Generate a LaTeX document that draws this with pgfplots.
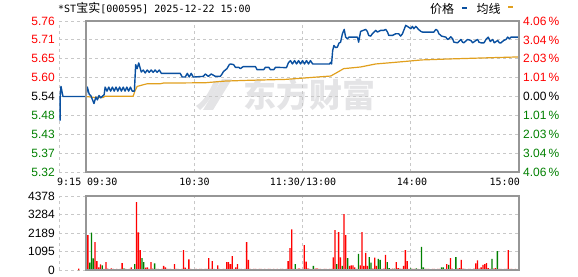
\documentclass[border=0pt]{standalone}
\usepackage{fontspec}
\setmainfont{Liberation Sans}
\newfontfamily\cjk{Noto Sans CJK SC}
\newfontfamily\mono{DejaVu Sans Mono}
\usepackage{pgfplots}
\usepackage{pgfplotstable}
\pgfplotsset{compat=1.18}
\definecolor{priceblue}{RGB}{10,80,160}
\definecolor{avgorange}{RGB}{225,160,30}
\definecolor{gridgray}{RGB}{200,200,200}
\definecolor{framegray}{RGB}{150,150,150}
\definecolor{upred}{RGB}{255,0,0}
\definecolor{downgreen}{RGB}{0,128,0}
\definecolor{wm}{RGB}{228,228,230}

\pgfplotstableread{
t vr vg
-4 80 0
1 2070 0
2 0 434
3 0 2209
4 0 690
5 1656 0
6 532 0
7 158 0
8 335 0
9 0 276
10 60 0
11 473 0
12 79 0
13 40 0
14 100 0
15 60 0
16 0 50
17 60 0
18 40 0
19 60 0
20 414 0
21 0 99
22 60 0
23 40 0
24 60 0
25 158 0
26 40 0
27 0 355
28 4023 0
29 2228 0
30 1183 0
31 0 710
32 0 473
33 138 0
34 158 0
35 60 0
36 473 0
37 79 0
38 0 394
39 60 0
40 60 0
41 0 50
42 60 0
43 237 0
44 158 0
45 60 0
46 60 0
47 60 0
48 40 0
49 355 0
50 60 0
51 60 0
52 40 0
53 60 0
54 1183 0
55 138 0
56 60 0
57 631 0
58 60 0
59 40 0
60 0 50
61 60 0
62 0 40
63 60 0
64 60 0
65 0 40
66 60 0
67 60 0
68 710 0
69 60 0
70 532 0
71 60 0
72 40 0
73 276 0
74 60 0
75 40 0
76 60 0
77 60 0
78 473 0
79 473 0
80 355 0
81 828 0
82 60 0
83 158 0
84 355 0
85 0 60
86 60 0
87 40 0
88 60 0
89 1656 0
90 592 0
91 60 0
92 40 0
93 60 0
94 60 0
95 0 40
96 60 0
97 60 0
98 40 0
99 60 0
100 0 40
101 60 0
102 60 0
103 40 0
104 60 0
105 0 50
106 60 0
107 40 0
108 60 0
109 60 0
110 40 0
111 60 0
112 532 0
113 1301 0
114 2406 0
115 60 0
116 0 355
117 60 0
118 100 0
119 60 0
120 40 0
121 1479 0
122 493 0
123 100 0
124 60 0
125 40 0
126 0 237
127 80 0
128 100 0
129 60 0
130 60 0
131 40 0
132 60 0
133 60 0
134 40 0
135 60 0
136 60 0
137 749 0
138 2366 0
139 0 355
140 2248 0
141 749 0
142 0 237
143 3313 0
144 2070 0
145 0 710
146 237 0
147 276 0
148 276 0
149 158 0
150 60 0
151 0 947
152 276 0
153 2248 0
154 237 0
155 1006 0
156 237 0
157 0 769
158 0 434
159 79 0
160 730 0
161 237 0
162 0 651
163 0 592
164 60 0
165 79 0
166 888 0
167 0 473
168 0 118
169 60 0
170 79 0
171 0 79
172 473 0
173 118 0
174 79 0
175 60 0
176 237 0
177 1183 0
178 532 0
179 60 0
180 0 99
181 60 0
182 60 0
183 0 99
184 60 0
185 40 0
186 0 1361
187 0 158
188 60 0
189 60 0
190 60 0
191 40 0
192 60 0
193 60 0
194 40 0
195 60 0
196 60 0
197 0 158
198 0 158
199 60 0
200 355 0
201 0 296
202 710 0
203 79 0
204 40 0
205 0 769
206 79 0
207 118 0
208 592 0
209 79 0
210 60 0
211 40 0
212 60 0
213 60 0
214 40 0
215 79 0
216 394 0
217 572 0
218 79 0
219 158 0
220 296 0
221 355 0
222 414 0
223 118 0
224 60 0
225 0 651
226 79 0
227 118 0
228 0 1124
229 60 0
230 60 0
231 40 0
232 60 0
233 60 0
234 1183 0
235 60 0
236 60 0
237 40 0
238 60 0
239 40 0
240 769 0
}\voltable

\pgfplotsset{
  chartstyle/.style={
    scale only axis, width=460pt,
    xmin=-15, xmax=240,
    axis line style={draw=none},
    major tick length=0pt,
    xtick={-15,60,120,180}, xticklabels={},
    grid=major,
    grid style={gridgray, dash pattern=on 3pt off 3pt, line width=0.9pt},
    yticklabel style={font=\fontsize{12}{14}\selectfont, inner sep=0pt, xshift=-4pt},
    clip=false,
  }
}

\begin{document}
\begin{tikzpicture}
\path[use as bounding box] (0pt,0pt) rectangle (578pt,276pt);

% watermark
\fill[wm] (203pt,166pt) -- (222pt,197pt) -- (232pt,197pt) -- (213pt,166pt) -- cycle;
\fill[wm] (196pt,170pt) .. controls (205pt,176pt) and (210pt,186pt) .. (214pt,195pt) -- (220pt,195pt) .. controls (214pt,182pt) and (207pt,172pt) .. (200pt,166pt) -- cycle;
\node[text=wm, inner sep=0pt] at (309pt,181pt) {\cjk\bfseries\fontsize{33}{33}\selectfont 东方财富};

\begin{axis}[chartstyle,
  at={(59pt,104pt)}, anchor=south west, height=151pt,
  ymin=5.315, ymax=5.765,
  ytick={5.315,5.37125,5.4275,5.48375,5.54,5.59625,5.6525,5.70875,5.765},
  yticklabels={\textcolor{downgreen}{5.32},\textcolor{downgreen}{5.37},\textcolor{downgreen}{5.43},\textcolor{downgreen}{5.48},5.54,\textcolor{upred}{5.60},\textcolor{upred}{5.65},\textcolor{upred}{5.71},\textcolor{upred}{5.76}},
]
\addplot[avgorange, line width=1.2pt] coordinates {
(0,5.540) (5,5.537) (9.4,5.537) (10.6,5.541) (26.1,5.541) (27.2,5.558) (28.3,5.570)
(31.7,5.575) (33.9,5.578) (41.1,5.578) (42.8,5.580) (66.1,5.581) (77.2,5.586)
(88.3,5.588) (110.6,5.591) (135.6,5.601) (138.3,5.609) (142.8,5.623) (152.2,5.628)
(160.6,5.637) (171.7,5.642) (186.1,5.649) (202.2,5.652) (220.6,5.655) (240,5.658)
};
\addplot[priceblue, line width=1.4pt, line join=round] coordinates {
(-14.4,5.468) (-14.4,5.537) (-13.9,5.570) (-12.8,5.540) (0,5.540)
(0.7,5.568) (1.8,5.546) (2.6,5.543) (3.5,5.531) (4.4,5.519) (5.4,5.538) (6.3,5.530)
(7.2,5.543) (8.2,5.536) (9.1,5.541) (10.0,5.545) (10.6,5.568) (11.6,5.556) (12.6,5.568)
(13.6,5.556) (14.6,5.568) (15.6,5.556) (16.6,5.568) (17.6,5.556) (18.6,5.568) (19.6,5.556)
(20.6,5.568) (21.6,5.556) (22.6,5.568) (23.6,5.556) (24.6,5.568) (25.6,5.556) (26.8,5.556)
(27.5,5.635) (28.3,5.623) (29.2,5.640) (30.6,5.613) (31.7,5.619) (32.8,5.610) (33.9,5.619)
(35.0,5.612) (36.1,5.619) (37.2,5.612) (38.3,5.619) (39.4,5.612) (40.6,5.619) (41.7,5.609)
(52.2,5.609) (53.3,5.598) (55.0,5.598) (56.1,5.609) (57.2,5.598) (58.3,5.609) (59.4,5.598)
(65.0,5.600) (66.1,5.607) (67.8,5.600) (69.4,5.607) (71.7,5.600) (74.4,5.600) (75.4,5.607)
(76.1,5.614) (78.1,5.623) (79.4,5.635) (80.0,5.637) (81.8,5.635) (82.8,5.627) (84.6,5.627)
(85.6,5.623) (86.5,5.627) (87.2,5.629) (93.9,5.629) (94.8,5.620) (98.5,5.620) (99.4,5.627)
(101.3,5.627) (102.2,5.620) (104.1,5.620) (105.0,5.627) (111.1,5.626) (112.2,5.641)
(113.3,5.647) (114.4,5.637) (115.6,5.647) (116.7,5.637) (117.8,5.647) (118.9,5.637)
(120.0,5.647) (121.1,5.637) (122.2,5.647) (123.3,5.637) (124.4,5.647) (125.6,5.637)
(135.0,5.637) (135.6,5.642) (136.1,5.637) (136.7,5.677) (137.4,5.692) (138.3,5.686)
(139.3,5.687) (140.2,5.699) (141.1,5.702) (142.1,5.727) (143.1,5.740) (143.9,5.717)
(144.8,5.712) (145.7,5.717) (150.4,5.717) (151.1,5.702) (152.2,5.734) (155.0,5.740)
(155.9,5.734) (156.7,5.722) (157.8,5.720) (158.7,5.727) (160.6,5.737) (161.5,5.732)
(163.3,5.737) (165.0,5.737) (166.1,5.740) (167.1,5.732) (167.8,5.722) (169.8,5.722)
(171.7,5.727) (173.3,5.727) (174.4,5.720) (175.4,5.727) (177.2,5.752) (178.7,5.747)
(180.0,5.742) (180.9,5.749) (181.7,5.742) (182.8,5.749) (184.3,5.740) (185.6,5.734)
(186.5,5.732) (192.8,5.732) (193.9,5.740) (194.8,5.737) (195.6,5.727) (197.1,5.720)
(199.4,5.717) (200.4,5.710) (201.1,5.712) (202.2,5.718) (203.2,5.712) (203.9,5.702)
(205.9,5.700) (207.8,5.710) (208.7,5.702) (209.4,5.700) (211.5,5.710) (213.3,5.707)
(214.3,5.700) (216.1,5.707) (217.1,5.710) (217.8,5.702) (218.9,5.700) (220.6,5.700)
(221.7,5.710) (222.9,5.717) (224.1,5.704) (225.4,5.710) (226.3,5.700) (228.2,5.707)
(229.1,5.700) (230.0,5.700) (231.5,5.707) (232.8,5.710) (233.7,5.717) (234.6,5.712)
(235.6,5.717) (240.0,5.717)
};
\draw[framegray, line width=1.3pt] (axis cs:0,5.315) rectangle (axis cs:240,5.765);
\begin{scope}[every node/.style={anchor=west, inner sep=0pt, xshift=4pt, font=\fontsize{12}{14}\selectfont}]
\node[text=upred] at (axis cs:240,5.765) {4.06\,\%};
\node[text=upred] at (axis cs:240,5.70875) {3.04\,\%};
\node[text=upred] at (axis cs:240,5.6525) {2.03\,\%};
\node[text=upred] at (axis cs:240,5.59625) {1.01\,\%};
\node[text=black] at (axis cs:240,5.54) {0.00\,\%};
\node[text=downgreen] at (axis cs:240,5.48375) {1.01\,\%};
\node[text=downgreen] at (axis cs:240,5.4275) {2.03\,\%};
\node[text=downgreen] at (axis cs:240,5.37125) {3.04\,\%};
\node[text=downgreen] at (axis cs:240,5.315) {4.06\,\%};
\end{scope}
\end{axis}

\begin{axis}[chartstyle,
  at={(59pt,6pt)}, anchor=south west, height=74pt,
  ymin=0, ymax=4378,
  ytick={0,1094.5,2189,3283.5,4378},
  yticklabels={0,1095,2189,3284,4378},
  scaled y ticks=false,
]
\addplot[ybar, bar width=0.72, bar shift=0pt, fill=upred, draw=none] table[x=t, y=vr] {\voltable};
\addplot[ybar, bar width=0.72, bar shift=0pt, fill=downgreen, draw=none] table[x=t, y=vg] {\voltable};
\draw[framegray, line width=1.3pt] (axis cs:0,0) rectangle (axis cs:240,4378);
\end{axis}

% title
\node[anchor=base west, inner sep=0pt] at (58pt,263pt) {\mono\fontsize{10}{12}\selectfont *ST{\cjk\fontsize{12}{12}\selectfont 宝实}[000595] 2025-12-22 15:00};
% legend
\node[anchor=west, inner sep=0pt] at (430pt,267pt) {\cjk\fontsize{12}{12}\selectfont 价格};
\fill[priceblue] (461.5pt,266.7pt) rectangle (466.5pt,269.3pt);
\node[anchor=west, inner sep=0pt] at (476.5pt,267pt) {\cjk\fontsize{12}{12}\selectfont 均线};
\fill[avgorange] (507.5pt,267.7pt) rectangle (512.5pt,270.3pt);

% time labels
\begin{scope}[every node/.style={inner sep=0pt, font=\mono\fontsize{10}{12}\selectfont}]
\node[anchor=base west] at (57pt,91pt) {9:15};
\node[anchor=base west] at (87pt,91pt) {09:30};
\node[anchor=base] at (194.5pt,91pt) {10:30};
\node[anchor=base] at (303pt,91pt) {11:30/13:00};
\node[anchor=base] at (412pt,91pt) {14:00};
\node[anchor=base east] at (520pt,91pt) {15:00};
\end{scope}
\end{tikzpicture}
\end{document}
